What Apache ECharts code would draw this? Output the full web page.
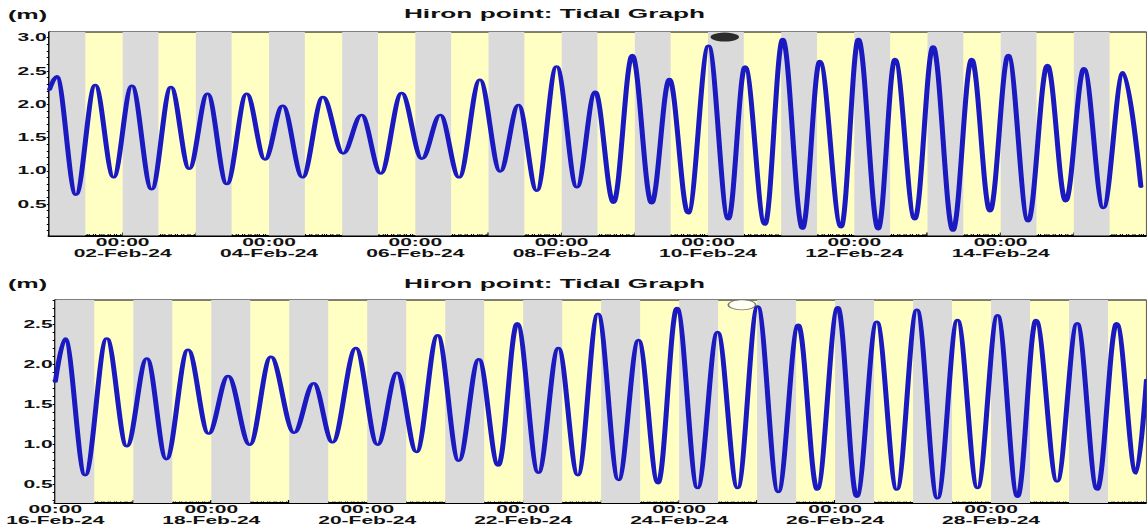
<!DOCTYPE html>
<html>
<head>
<meta charset="utf-8">
<script src="https://cdn.jsdelivr.net/npm/echarts@6/dist/echarts.min.js"></script>
<style>
html,body{margin:0;padding:0;background:#fff;overflow:hidden;width:1147px;height:530px}
#chart{width:546px;height:530px;transform:scaleX(2.1);transform-origin:0 0}
</style>
</head>
<body>
<div id="chart"></div>
<script>
// ---------------- data ----------------
const titleText = 'Hiron point: Tidal Graph';
const unitText = '(m)';

// Upper panel: 01-Feb-24 .. 16-Feb-24, high/low water times and levels (m)
const topTimes = [
'2024-02-01 00:00','2024-02-01 02:20','2024-02-01 08:40','2024-02-01 15:00','2024-02-01 21:00',
'2024-02-02 03:00','2024-02-02 09:30','2024-02-02 15:50','2024-02-02 21:50',
'2024-02-03 03:50','2024-02-03 10:10','2024-02-03 16:40','2024-02-03 22:40',
'2024-02-04 04:30','2024-02-04 11:00','2024-02-04 17:40',
'2024-02-05 00:20','2024-02-05 06:20','2024-02-05 12:40','2024-02-05 19:30',
'2024-02-06 02:10','2024-02-06 08:10','2024-02-06 14:20','2024-02-06 21:10',
'2024-02-07 03:50','2024-02-07 09:50','2024-02-07 15:50','2024-02-07 22:20',
'2024-02-08 05:00','2024-02-08 11:00','2024-02-08 17:00','2024-02-08 23:10',
'2024-02-09 05:30','2024-02-09 11:20','2024-02-09 17:30',
'2024-02-10 00:10','2024-02-10 06:40','2024-02-10 12:10','2024-02-10 18:40',
'2024-02-11 00:30','2024-02-11 07:00','2024-02-11 12:40','2024-02-11 19:40',
'2024-02-12 01:20','2024-02-12 07:50','2024-02-12 13:20','2024-02-12 19:50',
'2024-02-13 01:50','2024-02-13 08:20','2024-02-13 14:30','2024-02-13 20:30',
'2024-02-14 02:30','2024-02-14 09:00','2024-02-14 15:20','2024-02-14 21:20',
'2024-02-15 03:20','2024-02-15 09:40','2024-02-15 16:10','2024-02-15 22:00'
];
const topLevels = [
2.22,2.42,0.64,2.29,0.90,
2.28,0.72,2.26,1.03,
2.16,0.80,2.16,1.17,
1.98,0.90,2.11,
1.26,1.84,0.96,2.17,
1.18,1.84,0.90,2.37,
0.99,1.99,0.70,2.57,
0.75,2.19,0.52,2.74,
0.51,2.38,0.36,
2.88,0.27,2.57,0.19,
2.98,0.13,2.65,0.15,
2.98,0.12,2.68,0.27,
2.87,0.10,2.68,0.39,
2.74,0.24,2.59,0.54,
2.54,0.44,2.48,0.76
];

// Lower panel: 16-Feb-24 .. 01-Mar-24
const bottomTimes = [
'2024-02-16 00:00','2024-02-16 03:00','2024-02-16 09:10','2024-02-16 15:50','2024-02-16 22:00',
'2024-02-17 04:10','2024-02-17 10:10','2024-02-17 16:50','2024-02-17 23:10',
'2024-02-18 05:10','2024-02-18 11:50','2024-02-18 18:20',
'2024-02-19 01:30','2024-02-19 07:30','2024-02-19 13:20','2024-02-19 20:30',
'2024-02-20 03:10','2024-02-20 09:10','2024-02-20 15:10','2024-02-20 21:40',
'2024-02-21 04:10','2024-02-21 10:20','2024-02-21 16:20','2024-02-21 22:10',
'2024-02-22 04:40','2024-02-22 10:50','2024-02-22 16:50','2024-02-22 23:00',
'2024-02-23 05:20','2024-02-23 11:30','2024-02-23 17:30','2024-02-23 23:20',
'2024-02-24 05:40','2024-02-24 11:50','2024-02-24 18:00',
'2024-02-25 00:10','2024-02-25 06:30','2024-02-25 12:40','2024-02-25 18:30',
'2024-02-26 00:50','2024-02-26 06:40','2024-02-26 12:50','2024-02-26 19:00',
'2024-02-27 01:10','2024-02-27 07:30','2024-02-27 13:40','2024-02-27 19:50',
'2024-02-28 02:00','2024-02-28 08:10','2024-02-28 13:50','2024-02-28 20:20',
'2024-02-29 02:30','2024-02-29 08:40','2024-02-29 14:40','2024-02-29 20:40','2024-02-29 23:50'
];
const bottomLevels = [
1.78,2.32,0.61,2.32,0.97,
2.07,0.81,2.18,1.13,
1.85,0.99,2.09,
1.14,1.76,1.02,2.20,
0.99,1.89,0.90,2.36,
0.79,2.06,0.73,2.51,
0.64,2.20,0.61,2.63,
0.55,2.30,0.51,2.70,
0.45,2.40,0.45,
2.72,0.40,2.49,0.43,
2.71,0.34,2.53,0.43,
2.68,0.32,2.55,0.45,
2.61,0.34,2.55,0.53,
2.51,0.43,2.51,0.63,1.80
];

// Moon-phase markers (time, level at top of the panel)
const topMoonTime = '2024-02-10 05:30';
const topMoonLevel = 3.01;
const bottomMoonTime = '2024-02-24 19:20';
const bottomMoonLevel = 2.74;

// Axis ranges
const topRange = ['2024-02-01 00:00', '2024-02-16 00:00'];
const bottomRange = ['2024-02-16 00:00', '2024-03-01 00:00'];
const topYRange = [0.027, 3.086];
const bottomYRange = [0.2625, 2.8];

// Tick labels
const topLabelDays = ['2024-02-02','2024-02-04','2024-02-06','2024-02-08','2024-02-10','2024-02-12','2024-02-14'];
const bottomLabelDays = ['2024-02-16','2024-02-18','2024-02-20','2024-02-22','2024-02-24','2024-02-26','2024-02-28'];
const topYLabels = [0.5, 1.0, 1.5, 2.0, 2.5, 3.0];
const bottomYLabels = [0.5, 1.0, 1.5, 2.0, 2.5];

// Shaded (grey) half-day bands
const topBandDays = ['2024-02-01','2024-02-02','2024-02-03','2024-02-04','2024-02-05','2024-02-06','2024-02-07','2024-02-08','2024-02-09','2024-02-10','2024-02-11','2024-02-12','2024-02-13','2024-02-14','2024-02-15'];
const bottomBandDays = ['2024-02-16','2024-02-17','2024-02-18','2024-02-19','2024-02-20','2024-02-21','2024-02-22','2024-02-23','2024-02-24','2024-02-25','2024-02-26','2024-02-27','2024-02-28','2024-02-29'];
const topBandClock = ['00:00', '11:45'];
const bottomBandClock = ['00:00', '12:00'];

// ---------------- helpers ----------------
const SX = 2.1; // horizontal stretch of the reference picture
const FONT = '"Liberation Sans", Arial, sans-serif';
const MONTHS = ['Jan','Feb','Mar','Apr','May','Jun','Jul','Aug','Sep','Oct','Nov','Dec'];
function ts(s) {
  const parts = s.split(' ');
  const d = parts[0].split('-').map(Number);
  const t = (parts[1] || '00:00').split(':').map(Number);
  return Date.UTC(d[0], d[1] - 1, d[2], t[0], t[1]);
}
function pad(n) { return (n < 10 ? '0' : '') + n; }
function fmtTime(v) {
  const d = new Date(Number(v));
  return pad(d.getUTCHours()) + ':' + pad(d.getUTCMinutes()) + '\n' +
    pad(d.getUTCDate()) + '-' + MONTHS[d.getUTCMonth()] + '-' + String(d.getUTCFullYear()).slice(2);
}
function pairs(times, levels) { return times.map((t, i) => [ts(t), levels[i]]); }
function bands(days, clock) {
  return days.map(d => [{ xAxis: ts(d + ' ' + clock[0]) }, { xAxis: ts(d + ' ' + clock[1]) }]);
}
function hourTicks(range) {
  const out = [];
  for (let v = ts(range[0]); v <= ts(range[1]); v += 3600000) out.push(v);
  return out;
}
function dayTicks(range) {
  const out = [];
  for (let v = ts(range[0]); v <= ts(range[1]); v += 86400000) out.push(v);
  return out;
}
function yMinorTicks(r) {
  const out = [];
  for (let k = Math.ceil(r[0] * 10 - 1e-9); k / 10 <= r[1] + 1e-9; k++) out.push(+(k / 10).toFixed(1));
  return out;
}

const W = 1147 / SX;
const gridLeft = 49.5 / SX;

function xAxes(gridIndex, range, labelDays) {
  return [
    {
      gridIndex, type: 'value', min: ts(range[0]), max: ts(range[1]), position: 'bottom', scale: true,
      axisLine: { show: true, onZero: false, lineStyle: { color: '#000', width: 2 } },
      axisTick: { show: true, inside: true, length: 3, customValues: dayTicks(range), lineStyle: { color: '#000', width: 0.8 } },
      axisLabel: {
        show: true, customValues: labelDays.map(d => ts(d + ' 00:00')), formatter: fmtTime,
        color: '#111', fontSize: 10, fontWeight: 'bold', fontFamily: FONT, lineHeight: 11, margin: 1,
        hideOverlap: false
      },
      splitLine: { show: false }
    },
    {
      gridIndex, type: 'value', min: ts(range[0]), max: ts(range[1]), position: 'bottom', offset: 0, scale: true,
      axisLine: { show: false, onZero: false },
      axisTick: { show: true, inside: true, length: 1.6, customValues: hourTicks(range), lineStyle: { color: '#000', width: 0.5 } },
      axisLabel: { show: false },
      splitLine: { show: false }
    }
  ];
}
function yAxis(gridIndex, r, labels) {
  return {
    gridIndex, type: 'value', min: r[0], max: r[1],
    axisLine: { show: true, onZero: false, lineStyle: { color: '#000', width: 1.1 } },
    axisTick: { show: true, inside: false, length: 1.3, customValues: yMinorTicks(r), lineStyle: { color: '#000', width: 1 } },
    axisLabel: {
      show: true, customValues: labels, formatter: v => Number(v).toFixed(1),
      color: '#111', fontSize: 10, fontWeight: 'bold', fontFamily: FONT, margin: 1.3
    },
    splitLine: { show: false }
  };
}
function panelSeries(xi, yi, times, levels, dayList, clock, moonTime, moonLevel, moonStyle, moonSize) {
  return [
    {
      type: 'line', xAxisIndex: xi, yAxisIndex: yi, data: [], z: 1, silent: true,
      markArea: { silent: true, itemStyle: { color: '#dadada', opacity: 1, borderWidth: 0 }, data: bands(dayList, clock) }
    },
    {
      type: 'line', xAxisIndex: xi, yAxisIndex: yi, data: pairs(times, levels), z: 3,
      smooth: 0.35, smoothMonotone: 'x', showSymbol: false, symbol: 'none', silent: true,
      lineStyle: { color: '#1a1ac0', width: 2.4, join: 'round', cap: 'round' }
    },
    {
      type: 'scatter', xAxisIndex: xi, yAxisIndex: yi, data: [[ts(moonTime), moonLevel]], z: 5, clip: false,
      symbol: 'circle', symbolSize: moonSize, itemStyle: moonStyle, silent: true
    }
  ];
}

const chart = echarts.init(document.getElementById('chart'), null, { renderer: 'svg', width: W, height: 530 });

const option = {
  animation: false,
  backgroundColor: '#fff',
  grid: [
    { left: gridLeft, right: 0, top: 32, height: 203.5, show: true, backgroundColor: '#ffffc4', borderColor: '#000', borderWidth: 1 },
    { left: gridLeft, right: 0, top: 300, height: 203, show: true, backgroundColor: '#ffffc4', borderColor: '#000', borderWidth: 1 }
  ],
  xAxis: [].concat(xAxes(0, topRange, topLabelDays), xAxes(1, bottomRange, bottomLabelDays)),
  yAxis: [yAxis(0, topYRange, topYLabels), yAxis(1, bottomYRange, bottomYLabels)],
  graphic: [
    { type: 'text', x: 554.5 / SX, y: 13.5, style: { text: titleText, font: 'bold 12.5px ' + FONT, fill: '#111', align: 'center', verticalAlign: 'middle' } },
    { type: 'text', x: 554.5 / SX, y: 283.3, style: { text: titleText, font: 'bold 12.5px ' + FONT, fill: '#111', align: 'center', verticalAlign: 'middle' } },
    { type: 'text', x: 27.5 / SX, y: 15, style: { text: unitText, font: 'bold 12px ' + FONT, fill: '#111', align: 'center', verticalAlign: 'middle' } },
    { type: 'text', x: 27.5 / SX, y: 284, style: { text: unitText, font: 'bold 12px ' + FONT, fill: '#111', align: 'center', verticalAlign: 'middle' } }
  ],
  series: [].concat(
    panelSeries(0, 0, topTimes, topLevels, topBandDays, topBandClock, topMoonTime, topMoonLevel,
      { color: '#000' }, [28.5 / SX, 9]),
    panelSeries(2, 1, bottomTimes, bottomLevels, bottomBandDays, bottomBandClock, bottomMoonTime, bottomMoonLevel,
      { color: '#fff', borderColor: '#555', borderWidth: 0.7 }, [27.3 / SX, 10])
  )
};
chart.setOption(option);
</script>
</body>
</html>
